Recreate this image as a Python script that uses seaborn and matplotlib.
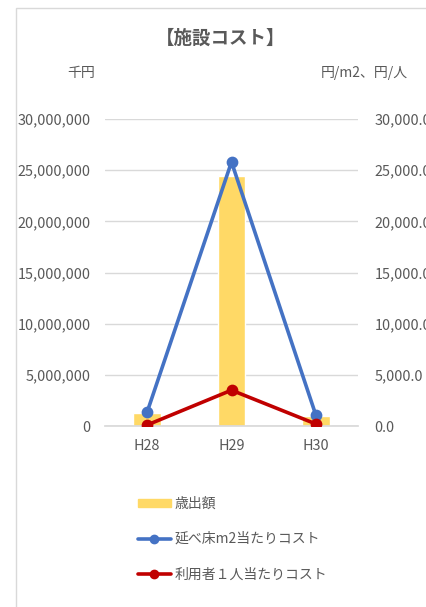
import matplotlib
matplotlib.use("Agg")
import matplotlib.pyplot as plt
import seaborn as sns
import pandas as pd
from matplotlib.patches import Patch, Rectangle
from matplotlib.lines import Line2D
from matplotlib.ticker import FuncFormatter

years = ["H28", "H29", "H30"]
spending = [1270000, 24400000, 1000000]          # 歳出額 (千円)
cost_per_m2 = [1370.0, 25800.0, 1070.0]           # 延べ床m2当たりコスト
cost_per_user = [100.0, 3500.0, 200.0]            # 利用者１人当たりコスト

sns.set_theme(style="white")
plt.rcParams["font.family"] = ["Noto Sans CJK JP", "DejaVu Sans"]

grey = "#595959"
bar_c = "#FFD966"
blue = "#4472C4"
red = "#C00000"

df = pd.DataFrame({"year": years, "spending": spending,
                   "m2": cost_per_m2, "user": cost_per_user})

fig = plt.figure(figsize=(4.26, 6.07), dpi=100)
fig.patches.append(Rectangle((16 / 426, -0.1), 1.0, 1 - 8 / 607 + 0.1,
                             transform=fig.transFigure, fill=False,
                             edgecolor="#D9D9D9", linewidth=1.0))

ax = fig.add_axes([105 / 426, 1 - 426 / 607, 253 / 426, 307 / 607])
sns.barplot(data=df, x="year", y="spending", color=bar_c, width=0.33,
            saturation=1, ax=ax)
ax.set_ylim(0, 30000000)
ax.set_yticks(range(0, 30000001, 5000000))
ax.yaxis.set_major_formatter(FuncFormatter(lambda v, p: f"{int(v):,}"))
ax.grid(axis="y", color="#D9D9D9", linewidth=1)
ax.set_axisbelow(True)

ax2 = ax.twinx()
sns.pointplot(data=df, x="year", y="m2", color=blue, linewidth=2.6,
              markersize=6.5, ax=ax2)
sns.pointplot(data=df, x="year", y="user", color=red, linewidth=2.6,
              markersize=6.5, ax=ax2)
ax2.set_ylim(0, 30000)
ax2.set_yticks(range(0, 30001, 5000))
ax2.yaxis.set_major_formatter(FuncFormatter(lambda v, p: f"{v:,.1f}"))
ax.set_xlim(-0.5, 2.5)

for a in (ax, ax2):
    for s in a.spines.values():
        s.set_visible(False)
    a.set_xlabel("")
    a.set_ylabel("")
    a.tick_params(length=0, labelsize=10.4, colors=grey)
ax.tick_params(axis="y", pad=10.5)
ax2.tick_params(axis="y", pad=12)
ax.tick_params(axis="x", pad=9)
ax.spines["bottom"].set_visible(True)
ax.spines["bottom"].set_color("#D9D9D9")

fig.text(221 / 426, 1 - 38 / 607, "【施設コスト】", ha="center", va="center",
         fontsize=13.3, fontweight="bold", color=grey)
fig.text(81 / 426, 1 - 73 / 607, "千円", ha="center", va="center",
         fontsize=10, color=grey)
fig.text(408 / 426, 1 - 73 / 607, "円/m2、円/人", ha="right", va="center",
         fontsize=10, color=grey)

handles = [Patch(facecolor=bar_c, edgecolor=bar_c),
           Line2D([], [], color=blue, lw=2.6, marker="o", markersize=6),
           Line2D([], [], color=red, lw=2.6, marker="o", markersize=6)]
labels = ["歳出額", "延べ床m2当たりコスト", "利用者１人当たりコスト"]
leg = fig.legend(handles, labels, loc="upper left",
                 bbox_to_anchor=(125 / 426, 1 - 484 / 607), frameon=False,
                 fontsize=10, handlelength=2.4, handleheight=0.5,
                 handletextpad=0.25, labelspacing=1.55)
for t in leg.get_texts():
    t.set_color(grey)

fig.savefig("out.png", dpi=100)
